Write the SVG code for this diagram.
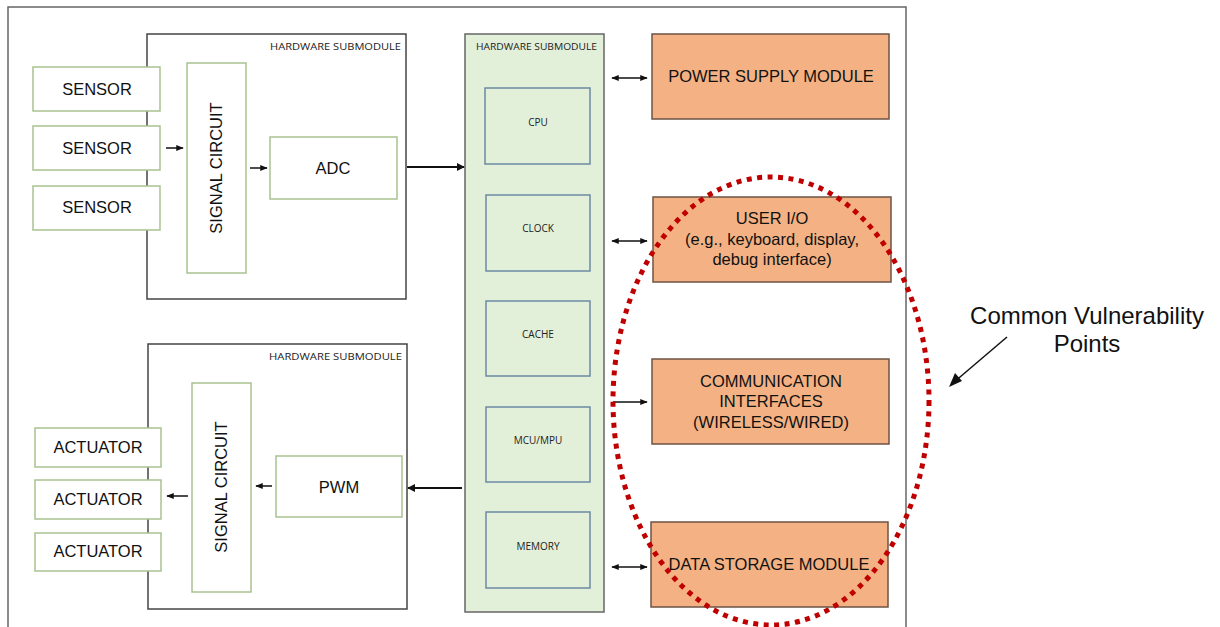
<svg xmlns="http://www.w3.org/2000/svg" width="1220" height="627" viewBox="0 0 1220 627">
  <defs>
    <style>
      .frame { fill: #fff; stroke: #666; stroke-width: 1.5; }
      .sub { fill: #fff; stroke: #444; stroke-width: 1.5; }
      .core { fill: #e2efd9; stroke: #666; stroke-width: 1.5; }
      .gbox { fill: #fff; stroke: #a8c28e; stroke-width: 1.5; }
      .ibox { fill: #e2efd9; stroke: #6d8aa3; stroke-width: 1.5; }
      .obox { fill: #f4b183; stroke: #6e5446; stroke-width: 1.5; }
      .lbl { font-family: "Liberation Sans", Arial, sans-serif; font-size: 16.5px; fill: #111; text-anchor: middle; }
      .small { font-family: "Open Sans", "Liberation Sans", sans-serif; font-size: 10px; fill: #222; text-anchor: middle; }
      .tag { font-family: "Open Sans", "Liberation Sans", sans-serif; font-size: 9px; fill: #222; }
      .wire { stroke: #111; stroke-width: 1.5; fill: none; }
      .bold { stroke: #111; stroke-width: 2.2; fill: none; }
      .note { font-family: "Liberation Sans", Arial, sans-serif; font-size: 24px; fill: #111; text-anchor: middle; }
    </style>
    <marker id="ah" viewBox="0 0 10 10" refX="9" refY="5" markerWidth="5" markerHeight="5" orient="auto-start-reverse">
      <path d="M0,1 L10,5 L0,9 Z" fill="#111"/>
    </marker>
    <marker id="ahBig" viewBox="0 0 10 10" refX="9" refY="5" markerWidth="8" markerHeight="8" orient="auto-start-reverse" markerUnits="userSpaceOnUse">
      <path d="M0,0 L10,5 L0,10 Z" fill="#111"/>
    </marker>
  </defs>

  <rect width="1220" height="627" fill="#fff"/>
  <!-- outer frame -->
  <rect class="frame" x="8" y="7" width="898" height="640"/>

  <!-- input submodule -->
  <g id="sub-input">
    <rect class="sub" x="147" y="34" width="259" height="265"/>
    <text class="tag" x="401" y="50" text-anchor="end" textLength="131" lengthAdjust="spacingAndGlyphs">HARDWARE SUBMODULE</text>
  </g>
  <g id="sensor-1"><rect class="gbox" x="33" y="67" width="127" height="44"/><text class="lbl" x="97" y="95">SENSOR</text></g>
  <g id="sensor-2"><rect class="gbox" x="33" y="126" width="127" height="44"/><text class="lbl" x="97" y="154">SENSOR</text></g>
  <g id="sensor-3"><rect class="gbox" x="33" y="186" width="127" height="44"/><text class="lbl" x="97" y="213">SENSOR</text></g>
  <g id="signal-in"><rect class="gbox" x="187" y="63" width="59" height="210"/><text class="lbl" transform="translate(222,168) rotate(-90)">SIGNAL CIRCUIT</text></g>
  <g id="adc"><rect class="gbox" x="270" y="137" width="127" height="62"/><text class="lbl" x="333" y="174">ADC</text></g>

  <!-- output submodule -->
  <g id="sub-output">
    <rect class="sub" x="148" y="344" width="259" height="265"/>
    <text class="tag" x="402" y="360" text-anchor="end" textLength="133" lengthAdjust="spacingAndGlyphs">HARDWARE SUBMODULE</text>
  </g>
  <g id="actuator-1"><rect class="gbox" x="35" y="428" width="126" height="39"/><text class="lbl" x="98" y="453">ACTUATOR</text></g>
  <g id="actuator-2"><rect class="gbox" x="35" y="480" width="126" height="39"/><text class="lbl" x="98" y="505">ACTUATOR</text></g>
  <g id="actuator-3"><rect class="gbox" x="35" y="533" width="126" height="38"/><text class="lbl" x="98" y="557">ACTUATOR</text></g>
  <g id="signal-out"><rect class="gbox" x="192" y="383" width="59" height="209"/><text class="lbl" transform="translate(227,487) rotate(-90)">SIGNAL CIRCUIT</text></g>
  <g id="pwm"><rect class="gbox" x="276" y="456" width="126" height="61"/><text class="lbl" x="339" y="493">PWM</text></g>

  <!-- central processing submodule -->
  <g id="sub-core">
    <rect class="core" x="465" y="34" width="139" height="578"/>
    <text class="tag" x="476" y="50" textLength="121" lengthAdjust="spacingAndGlyphs">HARDWARE SUBMODULE</text>
  </g>
  <g id="cpu"><rect class="ibox" x="485" y="88" width="105" height="76"/><text class="small" x="538" y="126">CPU</text></g>
  <g id="clock"><rect class="ibox" x="486" y="195" width="104" height="76"/><text class="small" x="538" y="232">CLOCK</text></g>
  <g id="cache"><rect class="ibox" x="486" y="301" width="104" height="75"/><text class="small" x="538" y="338">CACHE</text></g>
  <g id="mcu"><rect class="ibox" x="486" y="407" width="104" height="75"/><text class="small" x="538" y="444">MCU/MPU</text></g>
  <g id="memory"><rect class="ibox" x="486" y="512" width="104" height="76"/><text class="small" x="538" y="550">MEMORY</text></g>

  <!-- peripheral modules -->
  <g id="power"><rect class="obox" x="652" y="34" width="237" height="85"/><text class="lbl" x="771" y="82">POWER SUPPLY MODULE</text></g>
  <g id="user-io"><rect class="obox" x="653" y="197" width="238" height="85"/>
    <text class="lbl" x="772" y="224">USER I/O</text>
    <text class="lbl" x="772" y="245" font-size="15">(e.g., keyboard, display,</text>
    <text class="lbl" x="772" y="265" font-size="15">debug interface)</text>
  </g>
  <g id="comm"><rect class="obox" x="652" y="359" width="237" height="85"/>
    <text class="lbl" x="771" y="387" font-size="15">COMMUNICATION</text>
    <text class="lbl" x="771" y="407" font-size="15">INTERFACES</text>
    <text class="lbl" x="771" y="428" font-size="15">(WIRELESS/WIRED)</text>
  </g>
  <g id="storage"><rect class="obox" x="651" y="522" width="237" height="85"/><text class="lbl" x="769" y="570">DATA STORAGE MODULE</text></g>

  <!-- connectors -->
  <g id="connectors">
    <line class="wire" x1="166" y1="148" x2="183" y2="148" marker-end="url(#ah)"/>
    <line class="wire" x1="250" y1="168" x2="267" y2="168" marker-end="url(#ah)"/>
    <line class="bold" x1="407" y1="167" x2="464" y2="167" marker-end="url(#ahBig)"/>
    <line class="bold" x1="462" y1="488" x2="408" y2="488" marker-end="url(#ahBig)"/>
    <line class="wire" x1="272" y1="486" x2="256" y2="486" marker-end="url(#ah)"/>
    <line class="wire" x1="188" y1="496" x2="167" y2="496" marker-end="url(#ah)"/>
    <line class="wire" x1="612" y1="78" x2="647" y2="78" marker-start="url(#ah)" marker-end="url(#ah)"/>
    <line class="wire" x1="612" y1="241" x2="647" y2="241" marker-start="url(#ah)" marker-end="url(#ah)"/>
    <line class="wire" x1="613" y1="402" x2="647" y2="402" marker-end="url(#ah)"/>
    <line class="wire" x1="612" y1="567" x2="647" y2="567" marker-start="url(#ah)" marker-end="url(#ah)"/>
  </g>

  <!-- highlighted region -->
  <g id="vulnerability-zone">
    <ellipse cx="771" cy="401" rx="158" ry="224" fill="none" stroke="#c00000" stroke-width="5" stroke-dasharray="5,5.5"/>
  </g>
  <g id="vulnerability-note">
    <text class="note" x="1087" y="324">Common Vulnerability</text>
    <text class="note" x="1087" y="352">Points</text>
    <line x1="1007" y1="337" x2="953" y2="383" stroke="#111" stroke-width="1.5"/>
    <path d="M949,387 L955,373 L962,381 Z" fill="#111"/>
  </g>
</svg>
